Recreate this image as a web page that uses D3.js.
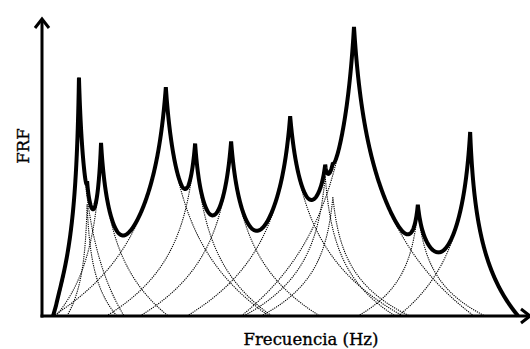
<!DOCTYPE html>
<html>
<head>
<meta charset="utf-8">
<script src="https://cdn.jsdelivr.net/npm/d3@7"></script>
<style>
  body { margin: 0; background: #fff; }
  svg { display: block; }
  .mode { fill: none; stroke: #000; stroke-width: 1.1; stroke-dasharray: 1.2,1; }
  .frf { fill: none; stroke: #000; stroke-width: 4; stroke-linejoin: miter; stroke-miterlimit: 1.5; }
  .axis-line { stroke: #000; stroke-width: 3; fill: none; }
  .lbl { font-family: "DejaVu Serif", "Liberation Serif", serif; font-size: 16.5px; fill: #000; stroke: #000; stroke-width: 0.35; }
</style>
</head>
<body>
<script>
// modal parameters
var modeFreq = [77, 94, 123, 258, 319, 394, 517, 590, 606, 650, 783, 892];        // Hz
var modePeak = [32.0, 15, 23.2, 30.7, 23.0, 23.4, 26.8, 18.8, 16, 38.8, 14.5, 24.7]; // level above floor
var reachLeft = [54, 42, 94, 235, 185, 190, 215, 170, 150, 235, 125, 150];       // Hz to floor
var reachRight = [94, 62, 140, 215, 160, 185, 235, 146, 160, 250, 140, 100];

var fMax = 1000, yMax = 40;
var sharp = 0.05;   // cusp sharpness of each mode
var blend = 8;      // how much overlapping modes add up

var width = 530, height = 349;
var svg = d3.select("body").append("svg")
	.attr("width", width)
	.attr("height", height);

var x = d3.scaleLinear().domain([0, fMax]).range([42, 522]);
var y = d3.scaleLinear().domain([0, yMax]).range([316, 18]);

var modes = modeFreq.map((c, i) => ({ c: c, peak: modePeak[i], aL: reachLeft[i], aR: reachRight[i] }));

// level of one mode above the floor
function level(m, f) {
	var d = f - m.c;
	var u = Math.abs(d) / (d < 0 ? m.aL : m.aR);
	if (u >= 1) return 0;
	return m.peak * Math.log((1 + sharp) / (u + sharp)) / Math.log((1 + sharp) / sharp);
}

// frequency grid, with the resonances themselves included
var grid = d3.range(0, fMax + 0.01, 0.5).concat(modeFreq).sort((a, b) => a - b);

var line = d3.line()
	.x(d => x(d.f))
	.y(d => y(d.v));

// dotted single-mode curves
svg.append("g").selectAll("path")
	.data(modes)
	.enter().append("path")
	.attr("class", "mode")
	.attr("d", m => line(grid
		.filter(f => f >= m.c - m.aL && f <= m.c + m.aR)
		.map(f => ({ f: f, v: level(m, f) }))));

// total FRF
var total = grid.map(f => {
	var s = d3.sum(modes, m => Math.pow(10, level(m, f) / blend) - 1);
	return { f: f, v: blend * Math.log10(1 + s) };
});
var first = total.findIndex(d => d.v > 0);
var last = total.length - 1 - total.slice().reverse().findIndex(d => d.v > 0);
svg.append("path")
	.attr("class", "frf")
	.attr("d", line(total.slice(Math.max(0, first - 1), last + 2)));

// axes with arrows
var x0 = x(0), y0 = y(0);
svg.append("line").attr("class", "axis-line")
	.attr("x1", x0).attr("y1", y0 + 1.5).attr("x2", x0).attr("y2", 19);
svg.append("path").attr("class", "axis-line")
	.attr("d", "M" + (x0 - 7) + "," + 28 + "L" + x0 + "," + 19 + "L" + (x0 + 7) + "," + 28);
svg.append("line").attr("class", "axis-line")
	.attr("x1", x0 - 1.5).attr("y1", y0).attr("x2", 529).attr("y2", y0);
svg.append("path").attr("class", "axis-line")
	.attr("d", "M" + 521 + "," + (y0 - 7) + "L" + 530 + "," + y0 + "L" + 521 + "," + (y0 + 7));

svg.append("text")
	.attr("class", "lbl")
	.attr("text-anchor", "middle")
	.attr("transform", "translate(29,146) rotate(-90)")
	.text("FRF");

svg.append("text")
	.attr("class", "lbl")
	.attr("text-anchor", "middle")
	.attr("x", 311)
	.attr("y", 345)
	.text("Frecuencia (Hz)");
</script>
</body>
</html>
